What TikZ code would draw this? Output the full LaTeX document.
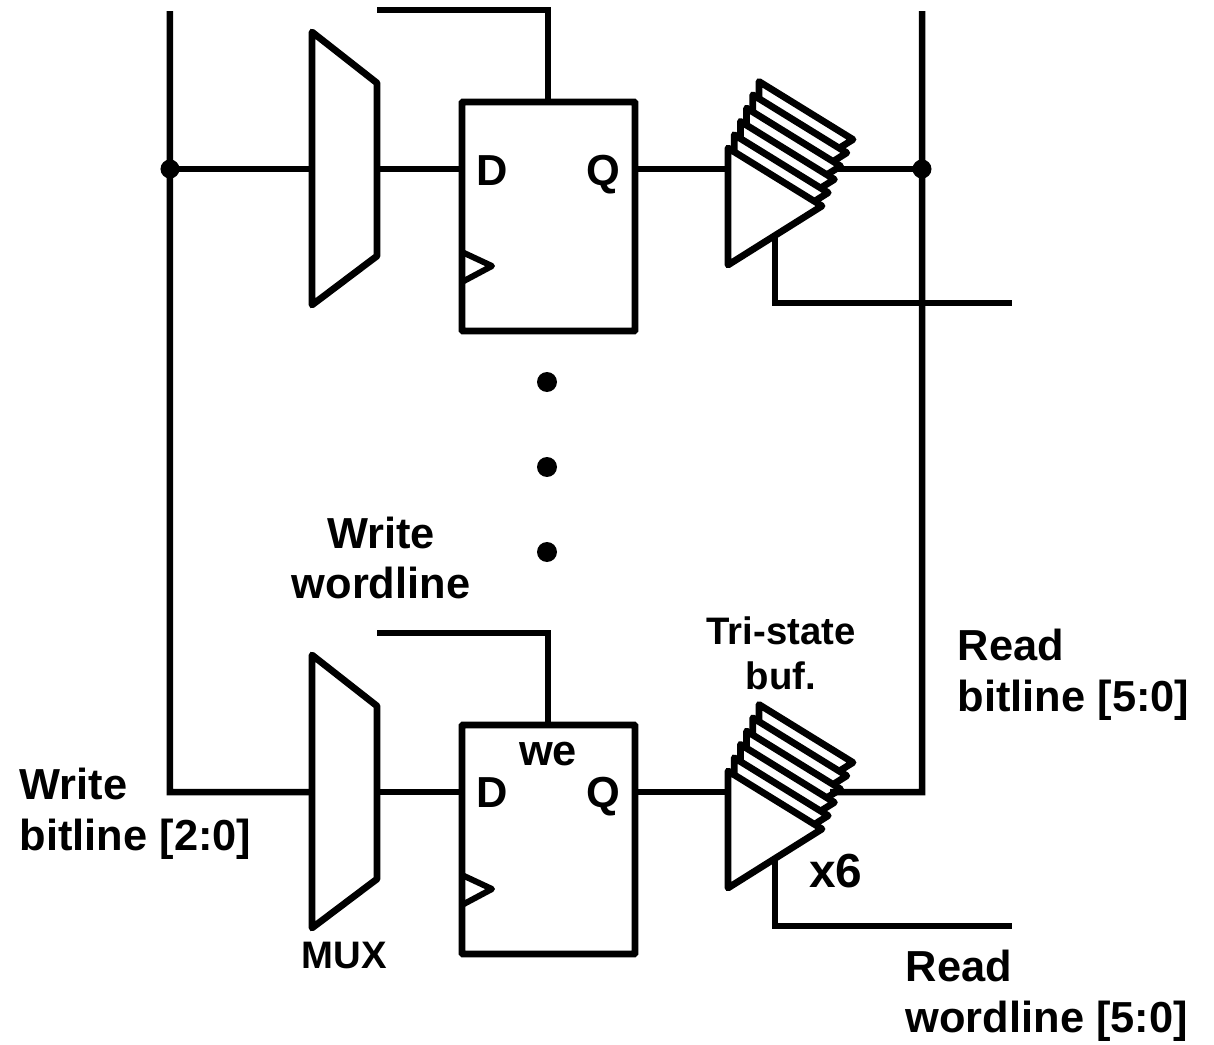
\documentclass[tikz,border=0pt]{standalone}
\usepackage{fontspec}
\setmainfont{Liberation Sans}
\tikzset{
  wire/.style={line width=0.065cm, line join=miter},
  shapeline/.style={line width=0.068cm, line join=round, fill=white},
  junction/.style={circle, fill=black, inner sep=0pt, minimum size=0.19cm},
  etcdot/.style={circle, fill=black, inner sep=0pt, minimum size=0.2cm},
  ffbox/.style={draw, rectangle, line width=0.068cm, rounded corners=0.01cm, inner sep=0pt, minimum width=1.73cm, minimum height=2.29cm},
  biglabel/.style={font=\fontsize{12.35}{14.5}\selectfont\bfseries, align=left, inner sep=0pt},
  pinlabel/.style={biglabel, anchor=base},
  smalllabel/.style={font=\fontsize{10.9}{12.8}\selectfont\bfseries, align=center, inner sep=0pt}
}
\begin{document}
\begin{tikzpicture}
    \useasboundingbox (0,0) rectangle (12.14,-10.45);

    % one storage cell, drawn twice
    \foreach \n/\y in {top/0, bot/-6.23} {
      \begin{scope}[yshift=\y cm]
        \coordinate (wlstart\n) at (3.77,-0.10);
        \coordinate (wlbend\n) at (5.48,-0.10);
        \coordinate (we\n) at (5.48,-1.02);
        \coordinate (muxin\n) at (3.12,-1.69);
        \coordinate (muxout\n) at (3.77,-1.69);
        \coordinate (d\n) at (4.62,-1.69);
        \coordinate (q\n) at (6.35,-1.69);
        \coordinate (bufin\n) at (7.28,-1.69);
        \coordinate (bufout\n) at (8.30,-1.69);
        \coordinate (en\n) at (7.75,-2.35);
        \coordinate (enbend\n) at (7.75,-3.03);
        \coordinate (enend\n) at (10.12,-3.03);

        \node[ffbox] (ff\n) at (5.485,-2.165) {};

        \draw[wire] (wlstart\n) -- (wlbend\n) -- (we\n);
        \draw[wire] (muxout\n) -- (d\n);
        \draw[wire] (q\n) -- (bufin\n);
        \draw[wire] (bufout\n) -- (9.22,-1.69);

        % mux
        \draw[shapeline] (3.12,-0.32) -- (3.77,-0.83) -- (3.77,-2.56) -- (3.12,-3.05) -- cycle;
        % clock mark
        \draw[line width=0.06cm, line join=round] (4.62,-2.52) -- (4.92,-2.66) -- (4.62,-2.82);

        % six buffers, back one first
        \foreach \i in {5,4,3,2,1,0} {
          \draw[shapeline, shift={(0.062*\i,0.133*\i)}] (7.28,-1.48) -- (8.22,-2.06) -- (7.28,-2.65) -- cycle;
        }
        \draw[wire] (en\n) -- (enbend\n) -- (enend\n);
      \end{scope}
    }

    % bitlines
    \coordinate (wbltop) at (1.70,-0.11);
    \coordinate (wblbot) at (1.70,-7.92);
    \coordinate (rbltop) at (9.22,-0.11);
    \coordinate (rblbot) at (9.22,-7.92);
    \draw[wire] (wbltop) -- (wblbot) -- (muxinbot);
    \draw[wire] (rbltop) -- (rblbot) -- (bufoutbot);
    \draw[wire] (1.70,-1.69) -- (muxintop);
    \node[junction] (jleft) at (1.70,-1.69) {};
    \node[junction] (jright) at (9.22,-1.69) {};

    \node[etcdot] (dot1) at (5.47,-3.82) {};
    \node[etcdot] (dot2) at (5.47,-4.67) {};
    \node[etcdot] (dot3) at (5.47,-5.52) {};

    \node[pinlabel] (dtop) at (4.92,-1.85) {D};
    \node[pinlabel] (qtop) at (6.03,-1.85) {Q};
    \node[pinlabel] (dbot) at (4.92,-8.08) {D};
    \node[pinlabel] (qbot) at (6.03,-8.08) {Q};
    \node[pinlabel] (welabel) at (5.48,-7.65) {we};
    \node[biglabel, align=center] (wwl) at (3.81,-5.58) {Write\\wordline};
    \node[biglabel, anchor=west] (wbl) at (0.19,-8.14) {Write\\bitline [2:0]};
    \node[biglabel, anchor=west] (rbl) at (9.57,-6.75) {Read\\bitline [5:0]};
    \node[biglabel, anchor=west] (rwl) at (9.05,-9.96) {Read\\wordline [5:0]};
    \node[biglabel, font=\fontsize{13.6}{14.5}\selectfont\bfseries] (x6) at (8.36,-8.71) {x6};
    \node[smalllabel] (tri) at (7.81,-6.53) {Tri-state\\buf.};
    \node[smalllabel] (mux) at (3.44,-9.56) {MUX};
  \end{tikzpicture}
\end{document}
